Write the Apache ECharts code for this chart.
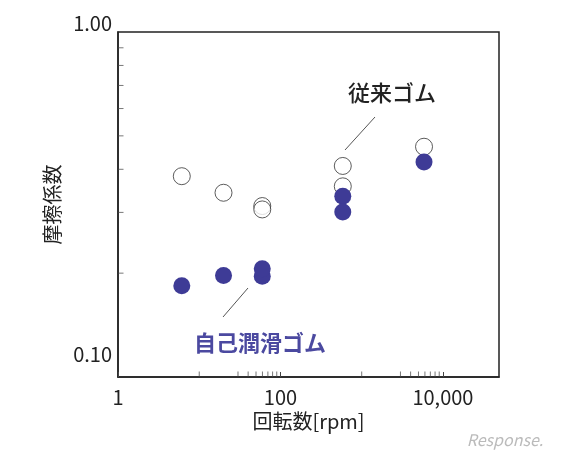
<!DOCTYPE html>
<html><head><meta charset="utf-8">
<script src="https://cdn.jsdelivr.net/npm/echarts@6/dist/echarts.min.js"></script>
<style>html,body{margin:0;background:#fff}#c{width:575px;height:460px}</style>
</head><body><div id="c"></div>
<script>
const conventionalRubber = [[6.1,0.382],[19.9,0.342],[59.7,0.313],[59.7,0.306],[585,0.409],[585,0.357],[5850,0.465]];
const selfLubricatingRubber = [[6.1,0.184],[19.9,0.197],[59.7,0.196],[59.7,0.206],[585,0.334],[585,0.301],[5850,0.420]];
const yMinorTicks = [0.2,0.3,0.4,0.5,0.6,0.7,0.8,0.9];
const xMinorTicks = [10,30,40,50,60,70,80,90,1000,3000,4000,5000,6000,7000,8000,9000];
const F = '"Noto Sans CJK JP", "Noto Sans", sans-serif';
const chart = echarts.init(document.getElementById('c'));
chart.setOption({
  animation:false,
  grid:{left:118,right:76,top:32,bottom:83},
  xAxis:{type:'log',logBase:10,min:1,max:49000,interval:2,
    name:'回転数[rpm]',nameLocation:'middle',nameGap:32,
    nameTextStyle:{fontFamily:F,fontSize:20,color:'#222'},
    axisLine:{lineStyle:{color:'#222',width:1.5}},
    axisTick:{inside:true,length:5,lineStyle:{color:'#444'}},
    splitLine:{show:false},
    axisLabel:{fontFamily:F,fontSize:20,color:'#222',margin:10,showMaxLabel:false,
      formatter:v=>Math.round(v).toLocaleString('en-US')}},
  yAxis:{type:'log',logBase:10,min:0.1,max:1,interval:1,
    name:'摩擦係数',nameLocation:'middle',nameGap:45,nameRotate:90,
    nameTextStyle:{fontFamily:F,fontSize:20,color:'#222'},
    axisLine:{lineStyle:{color:'#222',width:1.5}},
    axisTick:{show:false},splitLine:{show:false},
    axisLabel:{fontFamily:F,fontSize:20,color:'#222',margin:6,
      formatter:v=>v<0.5?'{lo|0.10}':'{hi|1.00}',
      rich:{lo:{fontFamily:F,fontSize:20,color:'#222',padding:[0,0,46,0]},hi:{fontFamily:F,fontSize:20,color:'#222',padding:[0,0,18,0]}}}},
  graphic:[
    {type:'rect',shape:{x:118,y:32,width:381,height:345},style:{fill:'none',stroke:'#222',lineWidth:1.5},silent:true},
    {type:'line',shape:{x1:375,y1:117,x2:345,y2:150},style:{stroke:'#555',lineWidth:1}},
    {type:'line',shape:{x1:248,y1:288,x2:223,y2:317},style:{stroke:'#555',lineWidth:1}},
    {type:'text',x:392,y:93,style:{text:'従来ゴム',font:'500 22px '+F,fill:'#222',align:'center',verticalAlign:'middle'}},
    {type:'text',x:260,y:343,style:{text:'自己潤滑ゴム',font:'bold 22px '+F,fill:'#4b49a0',align:'center',verticalAlign:'middle'}},
    {type:'text',x:505,y:440,style:{text:'Response.',font:'italic 16px '+F,fill:'#bbb',align:'center',verticalAlign:'middle'}}
  ],
  series:[
    {type:'scatter',data:conventionalRubber,symbolSize:17,itemStyle:{color:'#fff',borderColor:'#333',borderWidth:1},z:3},
    {type:'scatter',data:selfLubricatingRubber,symbolSize:17,itemStyle:{color:'#3e3b96',opacity:1},z:4},
    {type:'scatter',silent:true,data:yMinorTicks.map(v=>[1,v]),symbol:'rect',symbolSize:[5,1],symbolOffset:[3,0],itemStyle:{color:'#555'}},
    {type:'scatter',silent:true,data:xMinorTicks.map(v=>[v,0.1]),symbol:'rect',symbolSize:[1,5],symbolOffset:[0,-3],itemStyle:{color:'#555'}}
  ]
});
</script></body></html>
